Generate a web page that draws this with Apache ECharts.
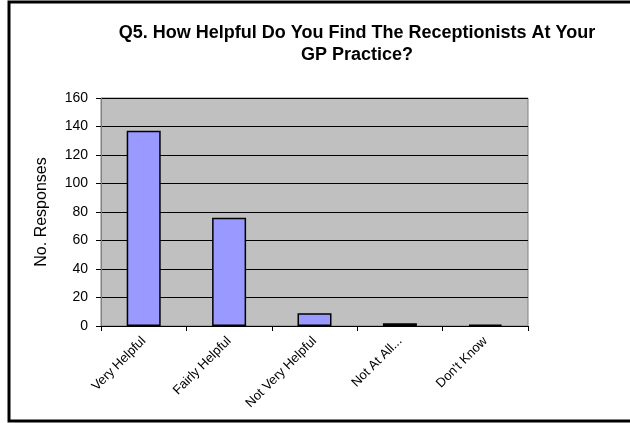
<!DOCTYPE html>
<html><head><meta charset="utf-8">
<script src="https://cdn.jsdelivr.net/npm/echarts@6/dist/echarts.min.js"></script>
<style>html,body{margin:0;padding:0;background:#fff}#c{width:630px;height:423px}</style>
</head><body><div id="c"></div>
<script>
const categories = ["Very Helpful", "Fairly Helpful", "Not Very Helpful", "Not At All...", "Don't Know"];
const responses = [137, 76, 9, 2, 1];
const yTicks = [0, 20, 40, 60, 80, 100, 120, 140, 160];

const chart = echarts.init(document.getElementById('c'));
chart.setOption({
  animation: false,
  backgroundColor: '#fff',
  title: {
    text: 'Q5. How Helpful Do You Find The Receptionists At Your\nGP Practice?',
    left: 352, top: 17, textAlign: 'center',
    textStyle: { fontFamily: 'Liberation Sans, Arial', fontSize: 18, fontWeight: 'bold', color: '#000', lineHeight: 22 }
  },
  graphic: [
    { type: 'rect', shape: { x: 9, y: 2, width: 700, height: 419 }, style: { fill: 'none', stroke: '#000', lineWidth: 3 }, z: 100 }
  ],
  grid: { left: 101, right: 102, top: 98, bottom: 97, show: true, backgroundColor: '#C0C0C0', borderColor: '#808080', borderWidth: 1 },
  xAxis: {
    type: 'category', data: categories, boundaryGap: true,
    axisLine: { lineStyle: { color: '#000', width: 1 } },
    axisTick: { show: true, alignWithLabel: false, length: 5, lineStyle: { color: '#000' } },
    axisLabel: { rotate: 45, interval: 0, fontFamily: 'Liberation Sans, Arial', fontSize: 13, color: '#000', margin: 13 }
  },
  yAxis: {
    type: 'value', min: yTicks[0], max: yTicks[yTicks.length - 1], interval: 20,
    name: 'No. Responses', nameLocation: 'middle', nameGap: 51, nameRotate: 90,
    nameTextStyle: { fontFamily: 'Liberation Sans, Arial', fontSize: 16, color: '#000' },
    axisLine: { show: true, lineStyle: { color: '#808080' } },
    axisTick: { show: true, inside: false, length: 5, lineStyle: { color: '#000' } },
    axisLabel: { fontFamily: 'Liberation Sans, Arial', fontSize: 14, color: '#000', margin: 13 },
    splitLine: { show: true, lineStyle: { color: '#000', width: 1 } }
  },
  series: [{
    type: 'bar', data: responses, barWidth: 34,
    itemStyle: { color: '#9999FF', borderColor: '#000', borderWidth: 1.5 }
  }]
});
</script></body></html>
